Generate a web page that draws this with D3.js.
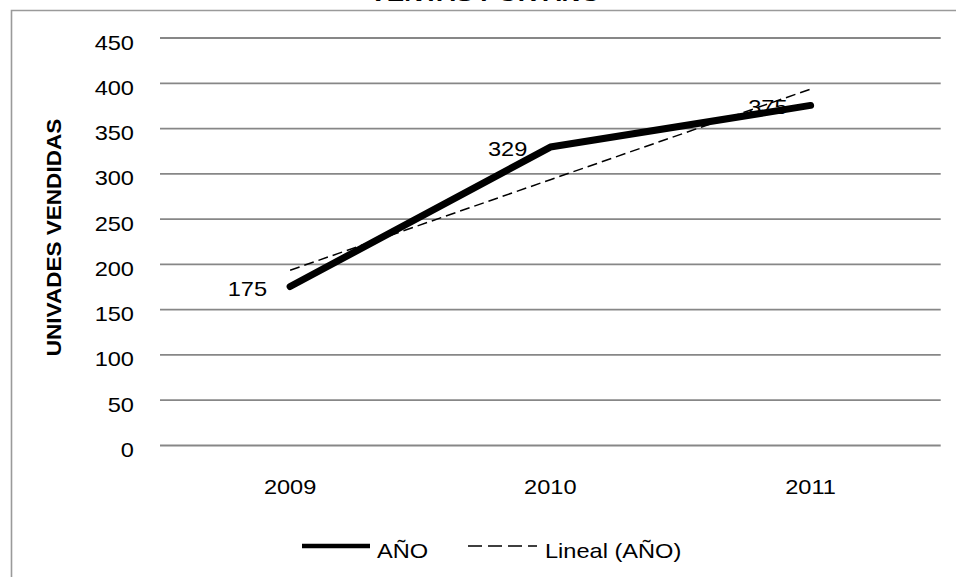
<!DOCTYPE html>
<html>
<head>
<meta charset="utf-8">
<script src="https://cdn.jsdelivr.net/npm/d3@7"></script>
<style>
  html, body { margin: 0; padding: 0; background: #fff; }
  svg { display: block; font-family: "Liberation Sans", Arial, sans-serif; }
</style>
</head>
<body>
<svg id="chart" width="956" height="577"></svg>
<script>
// Units sold per year
const categories = ["2009", "2010", "2011"];
const ventas = [175, 329, 375];
const yTicks = [0, 50, 100, 150, 200, 250, 300, 350, 400, 450];
const chartTitle = "VENTAS POR AÑO";
const yTitle = "UNIVADES VENDIDAS";
const seriesName = "AÑO";
const trendName = "Lineal (AÑO)";

const svg = d3.select("#chart");
const W = 956, H = 577;
const plot = { left: 160, right: 940.7, top: 37.5, bottom: 445 };
const SX = 1.18;   // horizontal text widening used throughout the chart
const FS = 20;     // base font size

const x = d3.scaleBand().domain(categories).range([plot.left, plot.right]);
const y = d3.scaleLinear().domain([0, 450]).range([plot.bottom, plot.top]);
const cx = d => x(d) + x.bandwidth() / 2;

// Chart frame (top and left edges)
svg.append("path")
  .attr("d", `M11.5,${H} L11.5,10.5 L${W},10.5`)
  .attr("fill", "none")
  .attr("stroke", "#9a9a9a")
  .attr("stroke-width", 1.6);

// Title (sits above the top edge of the view)
svg.append("text")
  .attr("transform", `translate(485,0.5) scale(1.3,1)`)
  .attr("text-anchor", "middle")
  .attr("font-size", 20)
  .attr("font-weight", "bold")
  .text(chartTitle);

// Horizontal gridlines + y tick labels
const yAxis = svg.append("g")
  .attr("transform", `translate(${plot.left},0)`)
  .call(d3.axisLeft(y).tickValues(yTicks).tickSize(-(plot.right - plot.left)).tickFormat(d3.format("d")));
yAxis.select(".domain").remove();
yAxis.selectAll(".tick line").attr("stroke", "#878787").attr("stroke-width", 1.8);
yAxis.selectAll(".tick text")
  .attr("x", null).attr("dy", null)
  .attr("transform", `translate(-26,11.5) scale(${SX},1)`)
  .attr("font-size", FS)
  .attr("font-family", "Liberation Sans, Arial, sans-serif")
  .attr("fill", "#000");

// Category labels
const xAxis = svg.append("g")
  .attr("transform", `translate(0,${plot.bottom})`)
  .call(d3.axisBottom(x).tickSize(0));
xAxis.select(".domain").remove();
xAxis.selectAll(".tick text")
  .attr("y", null).attr("dy", null)
  .attr("transform", `translate(0,49) scale(${SX},1)`)
  .attr("font-size", FS)
  .attr("font-family", "Liberation Sans, Arial, sans-serif")
  .attr("fill", "#000");

// Y axis title
svg.append("text")
  .attr("transform", `translate(60.5,237.5) rotate(-90) scale(1.1,1)`)
  .attr("text-anchor", "middle")
  .attr("font-size", 20.5)
  .attr("font-weight", "bold")
  .text(yTitle);

// Linear trend (least squares over category index)
const idx = ventas.map((_, i) => i + 1);
const mx = d3.mean(idx), my = d3.mean(ventas);
const slope = d3.sum(idx, (t, i) => (t - mx) * (ventas[i] - my)) / d3.sum(idx, t => (t - mx) ** 2);
const intercept = my - slope * mx;
const trend = idx.map(t => intercept + slope * t);

const line = d3.line().x((d, i) => cx(categories[i])).y(d => y(d));

// Data line
svg.append("path")
  .datum(ventas)
  .attr("d", line)
  .attr("fill", "none")
  .attr("stroke", "#000")
  .attr("stroke-width", 7)
  .attr("stroke-linecap", "round")
  .attr("stroke-linejoin", "round");

// Trend line
svg.append("path")
  .datum(trend)
  .attr("d", line)
  .attr("fill", "none")
  .attr("stroke", "#000")
  .attr("stroke-width", 1.5)
  .attr("stroke-dasharray", "10,5");

// Data labels, left of each point
svg.selectAll(".dlabel")
  .data(ventas)
  .join("text")
  .attr("class", "dlabel")
  .attr("transform", (d, i) => `translate(${cx(categories[i]) - 23},${y(d) + 9}) scale(${SX},1)`)
  .attr("text-anchor", "end")
  .attr("font-size", FS)
  .attr("fill", "#000")
  .text(d => d);

// Legend
const lg = svg.append("g");
lg.append("line")
  .attr("x1", 302).attr("x2", 370).attr("y1", 546).attr("y2", 546)
  .attr("stroke", "#000").attr("stroke-width", 4.5);
lg.append("text")
  .attr("transform", `translate(377,553.5) scale(${SX},1)`)
  .attr("font-size", FS)
  .attr("dy", "0.2em")
  .text(seriesName);
lg.append("line")
  .attr("x1", 468).attr("x2", 537).attr("y1", 546).attr("y2", 546)
  .attr("stroke", "#000").attr("stroke-width", 1.5)
  .attr("stroke-dasharray", "14,6");
lg.append("text")
  .attr("transform", `translate(545,553.5) scale(${SX},1)`)
  .attr("font-size", FS)
  .attr("dy", "0.2em")
  .text(trendName);
</script>
</body>
</html>
